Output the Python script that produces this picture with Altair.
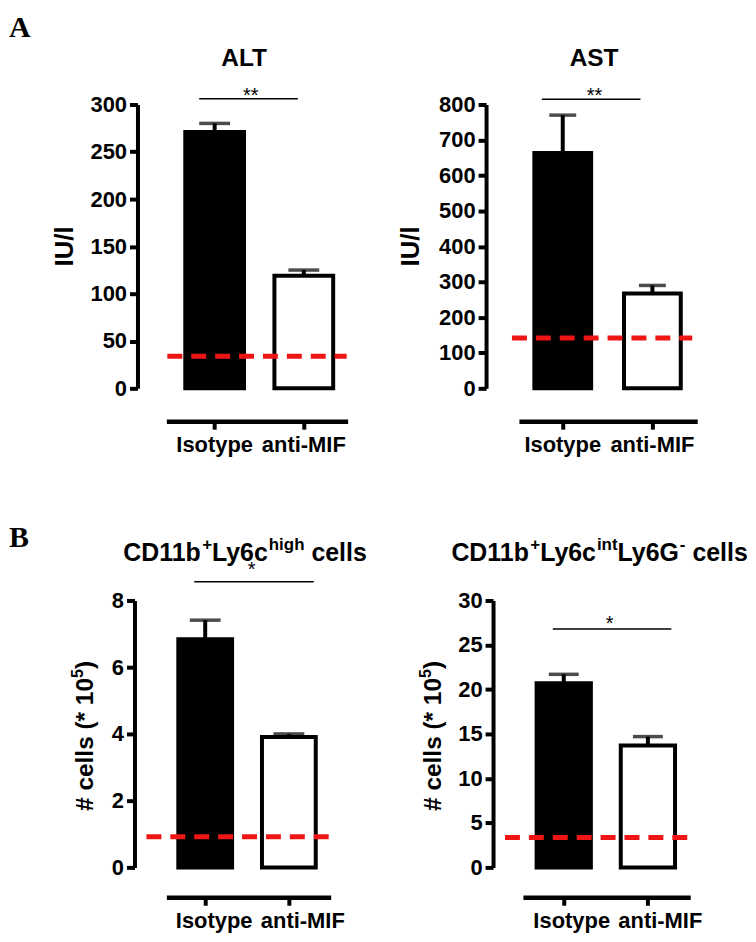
import altair as alt
import pandas as pd

groups = ["Isotype", "anti-MIF"]

alt_mean = [271, 119]
alt_sem = [9, 6]
alt_normal = 34
alt_bracket = 306
alt_ticks = [0, 50, 100, 150, 200, 250, 300]

ast_mean = [663, 267]
ast_sem = [107, 23]
ast_normal = 142
ast_bracket = 815
ast_ticks = [0, 100, 200, 300, 400, 500, 600, 700, 800]

hi_mean = [6.84, 3.91]
hi_sem = [0.57, 0.09]
hi_normal = 0.92
hi_bracket = 8.56
hi_ticks = [0, 2, 4, 6, 8]

int_mean = [20.7, 13.7]
int_sem = [1.0, 1.0]
int_normal = 3.36
int_bracket = 26.8
int_ticks = [0, 5, 10, 15, 20, 25, 30]

FONT = "Liberation Sans"
SERIF = "Liberation Serif"

# Arial/Liberation Sans Bold advance widths (per 1000 em) for laying out rich text pieces
AW = {'#': 556, ' ': 278, 'c': 556, 'e': 556, 'l': 278, 's': 556, '(': 333, '*': 389,
      '1': 556, '0': 556, '5': 556, ')': 333, 'C': 722, 'D': 722, 'b': 611, '+': 584,
      'L': 611, 'y': 556, '6': 556, 'h': 611, 'i': 278, 'g': 611, 'n': 611, 't': 333,
      'G': 778, '-': 333, 'I': 278, 'U': 722, '/': 278, 'A': 722, 'T': 611, 'S': 667}


def tw(s, size):
    return sum(AW.get(ch, 556) for ch in s) * size / 1000.0


def rich(pieces, cx, cy, vertical=False):
    """pieces: list of (text, size, raise). Returns list of text layers centred at (cx, cy)."""
    total = sum(tw(t, s) for t, s, r in pieces)
    out = []
    pos = -total / 2
    for t, s, r in pieces:
        lead = len(t) - len(t.lstrip(" "))
        pos += tw(" " * lead, s)
        t = t.lstrip(" ")
        if vertical:
            x, y, ang = cx - r, cy - pos, 270
        else:
            x, y, ang = cx + pos, cy - r, 0
        out.append(alt.Chart(pd.DataFrame({"t": [t]})).mark_text(
            text=t, font=FONT, fontSize=s, fontWeight="bold", color="black",
            align="left", baseline="alphabetic", angle=ang).encode(
            x=alt.value(x), y=alt.value(y)))
        pos += tw(t, s)
    return out


def panel(mean, sem, normal, bracket, stars, ticks, ylabel, title, letter, g):
    df = pd.DataFrame({"group": groups, "mean": mean,
                       "top": [m + s for m, s in zip(mean, sem)]})
    ann = pd.DataFrame({"normal": [normal], "bracket": [bracket]})
    W, H = g["W"], g["H"]
    step, bw, c1 = g["step"], g["bw"], g["c1"]
    pi = 1 - bw / step
    span = 2 - pi
    po = (W / step - span) / 2
    al = (c1 - bw / 2) / (W - step * span)
    xs = alt.Scale(domain=groups, paddingInner=pi, paddingOuter=po, align=al, round=False)
    ys = alt.Scale(domain=[0, ticks[-1]], nice=False, zero=True)
    xaxis = alt.Axis(title=None, labelAngle=0, offset=g["xoff"], domainWidth=4.5,
                     domainColor="black", tickWidth=4, tickColor="black", tickSize=8,
                     labelPadding=5, labelFont=FONT, labelFontSize=22,
                     labelFontWeight="bold", labelColor="black",
                     labelOffset={"condition": {"test": "datum.value === 'Isotype'",
                                                "value": g["lo"][0]}, "value": g["lo"][1]})
    yaxis = alt.Axis(title=None, values=ticks, offset=g["yoff"], grid=False,
                     domainWidth=4, domainColor="black", tickWidth=4, tickColor="black",
                     tickSize=8, labelPadding=3, labelFont=FONT, labelFontSize=22,
                     labelFontWeight="bold", labelColor="black")
    x = alt.X("group:N", scale=xs, sort=groups, axis=xaxis)

    def Y(field):
        return alt.Y(field, scale=ys, axis=yaxis)

    bars = alt.Chart(df).mark_bar(stroke="black", strokeWidth=4).encode(
        x=x, y=Y("mean:Q"),
        fill=alt.Fill("group:N", scale=alt.Scale(domain=groups, range=["black", "white"]), legend=None))
    stems = alt.Chart(df).mark_rule(color="black", strokeWidth=4).encode(
        x=x, y=Y("mean:Q"), y2="top:Q")
    caps = alt.Chart(df).mark_tick(color="black", thickness=3.5, size=g["cap"]).encode(
        x=x, y=Y("top:Q"))
    ref = alt.Chart(ann).mark_rule(color="#f01515", strokeWidth=5, strokeDash=[15, 9]).encode(
        y=Y("normal:Q"), x=alt.value(g["rx"][0]), x2=alt.value(g["rx"][1]))
    brk = alt.Chart(ann).mark_rule(color="black", strokeWidth=1.5).encode(
        y=Y("bracket:Q"), x=alt.value(g["bx"][0]), x2=alt.value(g["bx"][1]))
    star = alt.Chart(ann).mark_text(text=stars, font=FONT, fontSize=20, color="black",
                                    baseline="alphabetic", dy=g["sdy"]).encode(
        y=Y("bracket:Q"), x=alt.value(g["sx"]))
    layers = [bars, stems, caps, ref, brk, star]
    layers += rich(title, g["tx"], g["ty"])
    layers += rich(ylabel, g["yx"], g["yy"], vertical=True)
    if letter:
        let = alt.Chart(ann).mark_text(text=letter, font=SERIF, fontSize=30, fontWeight="bold",
                                       color="black", align="left", baseline="alphabetic").encode(
            x=alt.value(-158), y=alt.value(g["ly"]))
        layers.append(let)
    return alt.layer(*layers).properties(width=W, height=H)


IU = [("IU/l", 26, 0)]
CELLS = [("# cells (* 10", 24.5, 0), ("5", 16, 10), (")", 24.5, 0)]
T_ALT = [("ALT", 24.5, 0)]
T_AST = [("AST", 24.5, 0)]
T_HI = [("CD11b", 25, 0), ("+", 17, 11), ("Ly6c", 25, 0), ("high", 17, 11), (" cells", 25, 0)]
T_INT = [("CD11b", 25, 0), ("+", 17, 11), ("Ly6c", 25, 0), ("int", 17, 11), ("Ly6G", 25, 0),
         ("-", 17, 11), (" cells", 25, 0)]

gA1 = dict(W=182, H=285, step=89.5, bw=59, c1=48.5, xoff=33, yoff=29, cap=31, lo=(0, 0),
           rx=(1, 181), bx=(33, 132), sx=84.7, sdy=3, tx=79, ty=-39, ly=-68, yx=-94, yy=142.5)
gA2 = dict(W=179, H=285, step=90, bw=57, c1=44, xoff=33, yoff=33, cap=27, lo=(0, 0),
           rx=(-7, 174), bx=(23, 122), sx=76, sdy=3, tx=75.5, ty=-39, yx=-100, yy=142.5)
gB1 = dict(W=165, H=268, step=84, bw=54, c1=39, xoff=30, yoff=32, cap=31, lo=(9, 14),
           rx=(-20, 163), bx=(28, 148), sx=85.5, sdy=-6, tx=79, ty=-40, ly=-54, yx=-74, yy=136)
gB2 = dict(W=168, H=268, step=84.5, bw=54.5, c1=41, xoff=30, yoff=30, cap=30, lo=(8, 12.5),
           rx=(-18, 165), bx=(30, 149), sx=87, sdy=1, tx=77, ty=-40, yx=-82, yy=136)

p1 = panel(alt_mean, alt_sem, alt_normal, alt_bracket, "**", alt_ticks, IU, T_ALT, "A", gA1)
p2 = panel(ast_mean, ast_sem, ast_normal, ast_bracket, "**", ast_ticks, IU, T_AST, None, gA2)
p3 = panel(hi_mean, hi_sem, hi_normal, hi_bracket, "*", hi_ticks, CELLS, T_HI, "B", gB1)
p4 = panel(int_mean, int_sem, int_normal, int_bracket, "*", int_ticks, CELLS, T_INT, None, gB2)

row1 = alt.hconcat(p1, p2, spacing=172, bounds="flush")
row2 = alt.hconcat(p3, p4, spacing=193, bounds="flush")
chart = alt.vconcat(row1, row2, spacing=68).properties(
    padding={"left": 1, "top": 3, "right": 0, "bottom": 0}).configure_view(stroke=None)

chart.save("out.html", embed_options={"renderer": "svg", "actions": False})
